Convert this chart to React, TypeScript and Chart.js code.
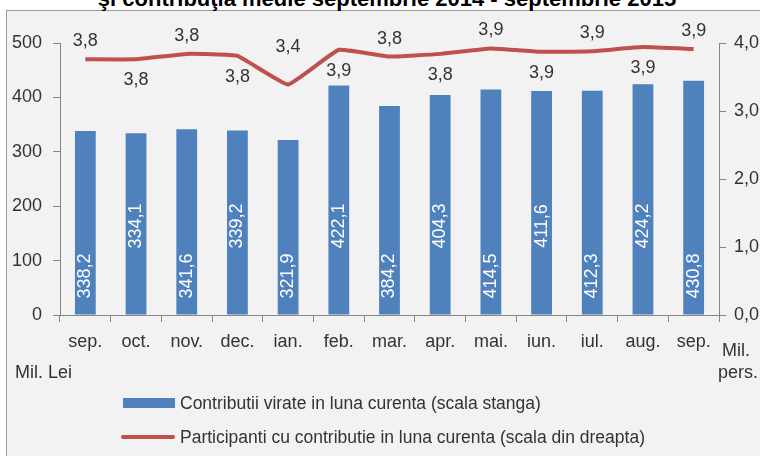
import React, { useEffect, useRef } from "react";
import { Chart, registerables } from "chart.js";

Chart.register(...registerables);

const months = ["sep.", "oct.", "nov.", "dec.", "ian.", "feb.", "mar.", "apr.", "mai.", "iun.", "iul.", "aug.", "sep."];
const contributii = [338.2, 334.1, 341.6, 339.2, 321.9, 422.1, 384.2, 404.3, 414.5, 411.6, 412.3, 424.2, 430.8];
const participanti = [3.76, 3.76, 3.84, 3.81, 3.39, 3.9, 3.8, 3.84, 3.92, 3.87, 3.88, 3.94, 3.91];
const seriesNames = [
  "Contributii virate in luna curenta (scala stanga)",
  "Participanti cu contributie in luna curenta (scala din dreapta)",
];
const titleText = "şi contribuţia medie septembrie 2014 - septembrie 2015";
const leftUnit = "Mil. Lei";
const rightUnit = ["Mil.", "pers."];

const FONT = '"Liberation Sans", Arial, sans-serif';
const BAR_COLOR = "#4f81bd";
const LINE_COLOR = "#c0504d";
const AXIS_COLOR = "#868686";
const TEXT_COLOR = "#333333";

const fmt = (v: number) => v.toFixed(1).replace(".", ",");

const valueLabels = {
  id: "valueLabels",
  afterDatasetsDraw(chart: any) {
    const ctx = chart.ctx;
    const barMeta = chart.getDatasetMeta(0);
    const lineMeta = chart.getDatasetMeta(1);
    const base = chart.scales.y.getPixelForValue(0);
    ctx.save();
    ctx.font = `18px ${FONT}`;
    ctx.textAlign = "center";
    ctx.textBaseline = "middle";
    barMeta.data.forEach((el: any, i: number) => {
      const cy = base - (i % 2 === 0 ? 39 : 89);
      ctx.save();
      ctx.translate(el.x, cy);
      ctx.rotate(-Math.PI / 2);
      ctx.fillStyle = "#ffffff";
      ctx.fillText(fmt(contributii[i]), 0, 0);
      ctx.restore();
    });
    lineMeta.data.forEach((pt: any, i: number) => {
      const above = i % 2 === 0;
      const y = above ? Math.min(pt.y - 18, 47) : pt.y + 21;
      ctx.fillStyle = TEXT_COLOR;
      ctx.fillText(fmt(participanti[i]), pt.x, y);
    });
    ctx.restore();
  },
};

export default function App() {
  const canvasRef = useRef<HTMLCanvasElement | null>(null);

  useEffect(() => {
    if (!canvasRef.current) return;
    const chart = new Chart(canvasRef.current, {
      type: "bar",
      data: {
        labels: months,
        datasets: [
          {
            type: "bar",
            label: seriesNames[0],
            data: contributii,
            backgroundColor: BAR_COLOR,
            barPercentage: 0.41,
            categoryPercentage: 1,
            yAxisID: "y",
            order: 2,
          } as any,
          {
            type: "line",
            label: seriesNames[1],
            data: participanti,
            borderColor: LINE_COLOR,
            borderWidth: 4,
            pointRadius: 0,
            tension: 0.1,
            yAxisID: "y1",
            order: 1,
          } as any,
        ],
      },
      options: {
        responsive: false,
        animation: false,
        devicePixelRatio: 1,
        layout: { padding: { top: 43, left: 0, right: 0, bottom: 0 } },
        plugins: { legend: { display: false }, tooltip: { enabled: false }, title: { display: false } },
        scales: {
          x: {
            grid: { drawOnChartArea: false, tickLength: 7, color: AXIS_COLOR, offset: true },
            border: { color: AXIS_COLOR },
            ticks: { color: TEXT_COLOR, font: { size: 18, family: FONT }, padding: 9, maxRotation: 0, autoSkip: false },
            afterFit: (s: any) => {
              s.height = 141;
            },
          },
          y: {
            position: "left",
            min: 0,
            max: 500,
            ticks: { stepSize: 100, color: TEXT_COLOR, font: { size: 18, family: FONT }, padding: 11 },
            grid: { drawOnChartArea: false, tickLength: 7, color: AXIS_COLOR },
            border: { color: AXIS_COLOR },
            afterFit: (s: any) => {
              s.width = 60;
            },
          },
          y1: {
            position: "right",
            min: 0,
            max: 4,
            ticks: {
              stepSize: 1,
              color: TEXT_COLOR,
              font: { size: 18, family: FONT },
              padding: 8,
              callback: (v: any) => fmt(Number(v)),
            },
            grid: { drawOnChartArea: false, tickLength: 7, color: AXIS_COLOR },
            border: { color: AXIS_COLOR },
            afterFit: (s: any) => {
              s.width = 41;
            },
          },
        },
      },
      plugins: [valueLabels],
    });
    return () => chart.destroy();
  }, []);

  const textStyle: React.CSSProperties = {
    position: "absolute",
    fontFamily: FONT,
    fontSize: 18,
    color: TEXT_COLOR,
    whiteSpace: "nowrap",
    lineHeight: "20px",
  };

  return (
    <div style={{ position: "absolute", left: 0, top: 0, width: 760, height: 456, overflow: "hidden", background: "#ffffff" }}>
      <div
        style={{
          position: "absolute",
          left: 6,
          top: 10,
          width: 800,
          height: 500,
          background: "#f2f2f2",
          border: "1px solid #9c9c9c",
          boxSizing: "border-box",
        }}
      />
      <div
        style={{
          position: "absolute",
          left: 0,
          width: 774,
          top: -12,
          textAlign: "center",
          fontFamily: FONT,
          fontWeight: "bold",
          fontSize: 22,
          lineHeight: "22px",
          color: "#000",
          whiteSpace: "nowrap",
        }}
      >
        {titleText}
      </div>
      <canvas ref={canvasRef} width={760} height={456} style={{ position: "absolute", left: 0, top: 0, width: 760, height: 456 }} />
      <div style={{ ...textStyle, left: 15, top: 362 }}>{leftUnit}</div>
      <div style={{ ...textStyle, left: 722, top: 340 }}>{rightUnit[0]}</div>
      <div style={{ ...textStyle, left: 718, top: 362 }}>{rightUnit[1]}</div>
      <div style={{ position: "absolute", left: 123, top: 398, width: 52, height: 10, background: BAR_COLOR }} />
      <div style={{ ...textStyle, left: 180, top: 393, fontSize: 17.5 }}>{seriesNames[0]}</div>
      <div style={{ position: "absolute", left: 121, top: 435, width: 54, height: 4, borderRadius: 2, background: LINE_COLOR }} />
      <div style={{ ...textStyle, left: 180, top: 427, fontSize: 17.5 }}>{seriesNames[1]}</div>
    </div>
  );
}
